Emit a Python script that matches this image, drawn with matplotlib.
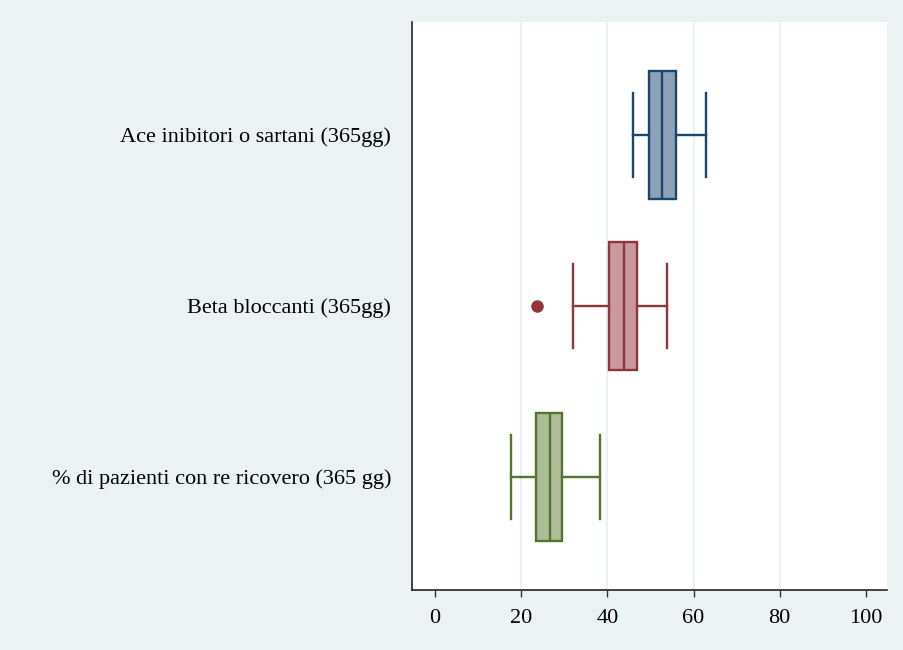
import matplotlib
matplotlib.use("Agg")
import matplotlib.pyplot as plt

categories = ["Ace inibitori o sartani (365gg)",
              "Beta bloccanti (365gg)",
              "% di pazienti con re ricovero (365 gg)"]
whislo = [45.9, 32.0, 17.7]
q1 = [49.7, 40.4, 23.5]
med = [52.6, 43.9, 26.7]
q3 = [56.0, 46.8, 29.5]
whishi = [62.9, 53.8, 38.2]
fliers = [[], [23.6], []]
xticks = [0, 20, 40, 60, 80, 100]

edge_colors = ["#1a476f", "#90353b", "#55752f"]
fill_colors = ["#8ca3b7", "#c89a9d", "#aebc97"]
bg = "#eaf2f3"

plt.rcParams['font.family'] = ['Liberation Serif', 'DejaVu Serif']

fig = plt.figure(figsize=(9.04, 6.5), dpi=100, facecolor=bg)
ax = fig.add_axes([412/904, 1-590/650, 475/904, 568/650])
ax.set_facecolor("white")

for i in range(len(categories)):
    st = [dict(med=med[i], q1=q1[i], q3=q3[i], whislo=whislo[i],
               whishi=whishi[i], fliers=fliers[i])]
    c = edge_colors[i]
    ax.bxp(st, positions=[i + 1], vert=False, widths=0.75, capwidths=0.49,
           patch_artist=True,
           boxprops=dict(facecolor=fill_colors[i], edgecolor=c, linewidth=1.7),
           medianprops=dict(color=c, linewidth=1.7),
           whiskerprops=dict(color=c, linewidth=1.7),
           capprops=dict(color=c, linewidth=1.7),
           flierprops=dict(marker='o', markerfacecolor=c, markeredgecolor=c,
                           markersize=8))

ax.set_xlim(-5.34, 104.9)
ax.set_ylim(3.661, 0.339)
ax.set_yticks([1, 2, 3])
ax.set_yticklabels(categories, fontsize=16)
ax.tick_params(axis='y', length=0, pad=15)
ax.set_xticks(xticks)
ax.set_xticklabels([str(t) for t in xticks], fontsize=16)
ax.tick_params(axis='x', length=5, width=1, color="#333333", pad=9)

for t in [20, 40, 60, 80]:
    ax.axvline(t, color=bg, linewidth=1.5, zorder=0)

for s in ['top', 'right']:
    ax.spines[s].set_visible(False)
for s in ['left', 'bottom']:
    ax.spines[s].set_color("#222222")
    ax.spines[s].set_linewidth(1.2)

fig.savefig("out.png", dpi=100, facecolor=bg)
